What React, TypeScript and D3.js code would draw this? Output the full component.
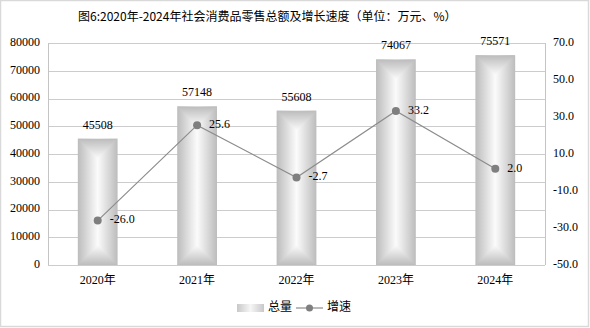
import React from "react";
import * as d3 from "d3";

const years = ["2020年", "2021年", "2022年", "2023年", "2024年"];
const totals = [45508, 57148, 55608, 74067, 75571];
const growth = [-26.0, 25.6, -2.7, 33.2, 2.0];
const leftTicks = [0, 10000, 20000, 30000, 40000, 50000, 60000, 70000, 80000];
const rightTicks = [-50, -30, -10, 10, 30, 50, 70];
const title = "图6:2020年-2024年社会消费品零售总额及增长速度（单位：万元、%）";
const legendBar = "总量";
const legendLine = "增速";

const W = 590;
const H = 328;
const plot = { left: 48, right: 545, top: 43, bottom: 265 };
const SERIF = "'Liberation Serif', 'Noto Sans CJK SC', serif";
const CJK = "'Noto Sans CJK SC', 'Liberation Serif', sans-serif";

export default function App() {
  const x = d3
    .scaleBand<string>()
    .domain(years)
    .range([plot.left, plot.right])
    .paddingInner(0.6)
    .paddingOuter(0.3);
  const yL = d3.scaleLinear().domain([0, 80000]).range([plot.bottom, plot.top]);
  const yR = d3.scaleLinear().domain([-50, 70]).range([plot.bottom, plot.top]);
  const bw = x.bandwidth();
  const cx = (y: string) => (x(y) as number) + bw / 2;
  const lineGen = d3
    .line<number>()
    .x((_, i) => cx(years[i]))
    .y((d) => yR(d));
  const edge = "#bcbcbc";
  const mid = "#fbfbfb";

  return (
    <div style={{ position: "fixed", left: 0, top: 0 }}>
      <svg width={W} height={H} style={{ display: "block" }}>
        <defs>
          <linearGradient id="gh" x1="0" y1="0" x2="1" y2="0">
            <stop offset="0" stopColor={edge} />
            <stop offset="0.5" stopColor={mid} />
            <stop offset="1" stopColor={edge} />
          </linearGradient>
          <linearGradient id="gt" x1="0" y1="0" x2="0" y2="1">
            <stop offset="0" stopColor={edge} />
            <stop offset="1" stopColor={mid} />
          </linearGradient>
          <linearGradient id="gb" x1="0" y1="1" x2="0" y2="0">
            <stop offset="0" stopColor={edge} />
            <stop offset="1" stopColor={mid} />
          </linearGradient>
          <linearGradient id="gl" x1="0" y1="0" x2="1" y2="0">
            <stop offset="0" stopColor="#c8c8c8" />
            <stop offset="0.5" stopColor="#f6f6f6" />
            <stop offset="1" stopColor="#c8c8c8" />
          </linearGradient>
        </defs>
        <rect x={0} y={0} width={W} height={H} fill="#fff" />
        <rect x={0.5} y={0.5} width={588} height={326} fill="none" stroke="#d9d9d9" strokeWidth={1.5} />

        <text x={78} y={18} fontFamily={CJK} fontSize={12} dominantBaseline="middle" fill="#000">
          {title}
        </text>

        {/* gridlines */}
        {leftTicks.map((t) => (
          <line key={t} x1={plot.left} x2={plot.right} y1={Math.round(yL(t)) + 0.5} y2={Math.round(yL(t)) + 0.5} stroke="#cccccc" />
        ))}
        <line x1={plot.left + 0.5} x2={plot.left + 0.5} y1={plot.top} y2={plot.bottom} stroke="#c4c4c4" />
        <line x1={plot.right + 0.5} x2={plot.right + 0.5} y1={plot.top} y2={plot.bottom} stroke="#c4c4c4" />

        {/* bars */}
        {years.map((yr, i) => {
          const x0 = x(yr) as number;
          const top = yL(totals[i]);
          const bot = yL(0);
          const h = bot - top;
          const d = Math.min(bw / 2, h / 2);
          return (
            <g key={yr}>
              <rect x={x0} y={top} width={bw} height={h} fill="url(#gh)" />
              <polygon points={`${x0},${top} ${x0 + bw},${top} ${x0 + bw / 2},${top + d}`} fill="url(#gt)" />
              <polygon points={`${x0},${bot} ${x0 + bw},${bot} ${x0 + bw / 2},${bot - d}`} fill="url(#gb)" />
              <text x={cx(yr)} y={top - 10} textAnchor="middle" fontFamily={SERIF} fontSize={12} fill="#000">
                {totals[i]}
              </text>
            </g>
          );
        })}

        {/* line */}
        <path d={lineGen(growth) || ""} fill="none" stroke="#8c8c8c" strokeWidth={1.2} />
        {growth.map((g, i) => (
          <g key={i}>
            <circle cx={cx(years[i])} cy={yR(g)} r={4} fill="#7f7f7f" />
            <text x={cx(years[i]) + 12} y={yR(g)} dominantBaseline="middle" fontFamily={SERIF} fontSize={12} fill="#000">
              {g.toFixed(1)}
            </text>
          </g>
        ))}

        {/* left axis labels */}
        {leftTicks.map((t) => (
          <text key={t} x={40} y={yL(t)} textAnchor="end" dominantBaseline="middle" fontFamily={SERIF} fontSize={12} fill="#000">
            {t}
          </text>
        ))}
        {/* right axis labels */}
        {rightTicks.map((t) => (
          <text key={t} x={553} y={yR(t)} textAnchor="start" dominantBaseline="middle" fontFamily={SERIF} fontSize={12} fill="#000">
            {t.toFixed(1)}
          </text>
        ))}
        {/* x labels */}
        {years.map((yr) => (
          <text key={yr} x={cx(yr)} y={281} textAnchor="middle" dominantBaseline="middle" fontFamily={SERIF} fontSize={12} fill="#000">
            {yr}
          </text>
        ))}

        {/* legend */}
        <rect x={237} y={304} width={27} height={8} fill="url(#gl)" />
        <text x={268} y={308} dominantBaseline="middle" fontFamily={CJK} fontSize={12} fill="#000">
          {legendBar}
        </text>
        <line x1={296} x2={323} y1={308} y2={308} stroke="#8c8c8c" strokeWidth={1.2} />
        <circle cx={309.5} cy={308} r={3.5} fill="#7f7f7f" />
        <text x={327} y={308} dominantBaseline="middle" fontFamily={CJK} fontSize={12} fill="#000">
          {legendLine}
        </text>
      </svg>
    </div>
  );
}
